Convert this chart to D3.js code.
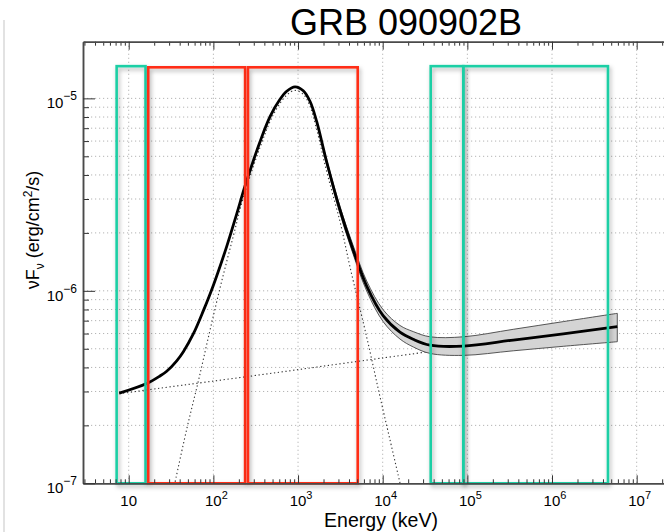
<!DOCTYPE html>
<html>
<head>
<meta charset="utf-8">
<script src="https://cdn.jsdelivr.net/npm/d3@7"></script>
<style>
  html, body { margin:0; padding:0; background:#fff; }
  svg { display:block; font-family:"Liberation Sans", Arial, sans-serif; }
</style>
</head>
<body>
<div class="container"></div>
<script>
// total model (Band + power law), keV vs erg/cm2/s
const modelE = [7.74, 16.3, 23.4, 28.1, 36.9, 44.2, 57.9, 76.0, 99.8, 143.5, 188.8, 236.6,
  355.6, 466.7, 612.4, 734.5, 920.4, 1153, 1384, 1660, 2178, 3133, 4498, 6471, 10162,
  15996, 22961, 36224, 89536, 348337, 1.358e6, 5.902e6];
const modelF = [2.94e-7, 3.30e-7, 3.61e-7, 3.82e-7, 4.33e-7, 4.83e-7, 5.97e-7, 7.87e-7,
  1.067e-6, 1.698e-6, 2.512e-6, 3.508e-6, 5.957e-6, 8.04e-6, 9.89e-6, 1.089e-5, 1.148e-5,
  1.096e-5, 9.66e-6, 7.59e-6, 4.68e-6, 2.63e-6, 1.62e-6, 1.059e-6, 7.41e-7, 6.10e-7,
  5.60e-7, 5.22e-7, 5.16e-7, 5.55e-7, 5.97e-7, 6.52e-7];

// error contour
const bandE = [1660, 2178, 3133, 4498, 6471, 10162, 15996, 22961, 36224, 89536, 348337, 1.358e6, 5.902e6];
const bandHi = [7.64e-6, 4.81e-6, 2.74e-6, 1.71e-6, 1.125e-6, 7.96e-7, 6.61e-7, 6.14e-7, 5.77e-7, 5.77e-7, 6.31e-7, 6.92e-7, 7.64e-7];
const bandLo = [7.53e-6, 4.55e-6, 2.52e-6, 1.54e-6, 9.98e-7, 6.90e-7, 5.62e-7, 5.11e-7, 4.73e-7, 4.62e-7, 4.88e-7, 5.15e-7, 5.44e-7];

// Band component (dotted)
const compE = [33.1, 48.4, 66.4, 91.2, 125.3, 172.2, 225.9, 355.6, 510.5, 734.5, 920.4,
  1153, 1384, 1660, 2178, 3133, 4111, 6471, 9290, 16032, 17378];
const compF = [8.91e-8, 1.91e-7, 3.39e-7, 6.24e-7, 1.12e-6, 1.93e-6, 3.05e-6, 5.56e-6,
  8.22e-6, 1.04e-5, 1.10e-5, 1.05e-5, 9.1e-6, 6.9e-6, 4.17e-6, 2.29e-6, 1.33e-6,
  5.75e-7, 2.82e-7, 1.0e-7, 8.5e-8];

// power-law component (dotted)
const plE = [7.74, 23.4, 355.6, 9290, 5.902e6];
const plF = [2.92e-7, 3.12e-7, 3.66e-7, 4.46e-7, 6.55e-7];

// instrument energy windows
const boxLo = [7.2, 17, 256, 36900, 89600];
const boxHi = [15.8, 237, 5070, 89600, 4.58e6];
const boxTop = [1.47e-5, 1.45e-5, 1.45e-5, 1.47e-5, 1.47e-5];
const boxKind = ['teal', 'red', 'red', 'teal', 'teal'];

const xMajor = [10, 100, 1e3, 1e4, 1e5, 1e6, 1e7];
const xExp = ['', '2', '3', '4', '5', '6', '7'];
const yMajor = [1e-7, 1e-6, 1e-5];
const yExp = ['\u22127', '\u22126', '\u22125'];

const W = 664, H = 532;
const plot = {left: 83, right: 679, top: 41.7, bottom: 483.3};
const colors = {teal: '#1ccfa5', red: '#ff2d14'};

const svg = d3.select('.container')
  .append('svg')
  .attr('width', W)
  .attr('height', H);

const defs = svg.append('defs');
defs.append('clipPath').attr('id', 'clip')
  .append('rect')
  .attr('x', plot.left).attr('y', plot.top)
  .attr('width', plot.right - plot.left).attr('height', plot.bottom - plot.top);
defs.append('filter').attr('id', 'shadow')
  .attr('x', '-60%').attr('y', '-5%').attr('width', '220%').attr('height', '110%')
  .append('feDropShadow')
  .attr('dx', 1.5).attr('dy', 2.5).attr('stdDeviation', 2)
  .attr('flood-color', '#000').attr('flood-opacity', 0.3);

const x = d3.scaleLog().domain([2.884, 3.162e7]).range([plot.left, plot.right]);
const y = d3.scaleLog().domain([1e-7, 1.97e-5]).range([plot.bottom, plot.top]);

// faint page border on the left
svg.append('line')
  .attr('x1', 4).attr('x2', 4).attr('y1', 20).attr('y2', H)
  .attr('stroke', '#d8d8d8').attr('stroke-width', 1.5);

// grid
const grid = svg.append('g').attr('stroke', '#b4b4b4').attr('stroke-dasharray', '1.2,2.8');
grid.selectAll('.gy')
  .data(y.ticks().filter(d => d > 1e-7))
  .join('line')
  .attr('class', 'gy')
  .attr('x1', plot.left).attr('x2', plot.right)
  .attr('y1', d => y(d)).attr('y2', d => y(d));
grid.selectAll('.gx')
  .data(xMajor)
  .join('line')
  .attr('class', 'gx')
  .attr('x1', d => x(d)).attr('x2', d => x(d))
  .attr('y1', plot.top).attr('y2', plot.bottom);

// model curves
const inner = svg.append('g').attr('clip-path', 'url(#clip)');
const line = d3.line()
  .x(d => x(d[0])).y(d => y(d[1]))
  .curve(d3.curveCatmullRom);

inner.append('path')
  .attr('d', line(d3.zip(plE, plF)))
  .attr('fill', 'none').attr('stroke', '#333').attr('stroke-width', 1.1)
  .attr('stroke-dasharray', '1.3,2.6');
inner.append('path')
  .attr('d', line(d3.zip(compE, compF)))
  .attr('fill', 'none').attr('stroke', '#333').attr('stroke-width', 1.1)
  .attr('stroke-dasharray', '1.3,2.6');

const area = d3.area()
  .x(d => x(d[0])).y0(d => y(d[2])).y1(d => y(d[1]))
  .curve(d3.curveCatmullRom);
inner.append('path')
  .attr('d', area(d3.zip(bandE, bandHi, bandLo)) + 'Z')
  .attr('fill', '#d4d4d4').attr('stroke', '#444').attr('stroke-width', 0.9);

inner.append('path')
  .attr('d', line(d3.zip(modelE, modelF)))
  .attr('fill', 'none').attr('stroke', '#000').attr('stroke-width', 2.8);

// energy windows
svg.append('g').selectAll('rect')
  .data(d3.range(boxLo.length))
  .join('rect')
  .attr('x', i => x(boxLo[i]))
  .attr('y', i => y(boxTop[i]))
  .attr('width', i => x(boxHi[i]) - x(boxLo[i]))
  .attr('height', i => y(1e-7) - y(boxTop[i]))
  .attr('fill', 'none')
  .attr('stroke', i => colors[boxKind[i]])
  .attr('stroke-width', 2.6)
  .attr('filter', 'url(#shadow)');

// axes (ticks pointing inwards)
const minorX = x.ticks().filter(d => !xMajor.includes(d));
const minorY = y.ticks().filter(d => !yMajor.includes(d));

function styleAxis(g) {
  g.select('.domain').attr('stroke', '#4a4a4a').attr('stroke-width', 1.5);
  g.selectAll('.tick line').attr('stroke', '#333');
}

const axBottom = svg.append('g').attr('transform', `translate(0,${plot.bottom})`);
axBottom.append('g').call(d3.axisBottom(x).tickValues(minorX).tickSize(-4).tickSizeOuter(0).tickFormat('')).call(styleAxis);
axBottom.append('g').call(d3.axisBottom(x).tickValues(xMajor).tickSize(-8).tickSizeOuter(0).tickFormat('')).call(styleAxis);

const axTop = svg.append('g').attr('transform', `translate(0,${plot.top})`);
axTop.append('g').call(d3.axisTop(x).tickValues(minorX).tickSize(-4).tickSizeOuter(0).tickFormat('')).call(styleAxis);
axTop.append('g').call(d3.axisTop(x).tickValues(xMajor).tickSize(-8).tickSizeOuter(0).tickFormat('')).call(styleAxis);

const axLeft = svg.append('g').attr('transform', `translate(${plot.left},0)`);
axLeft.append('g').call(d3.axisLeft(y).tickValues(minorY).tickSize(-6).tickSizeOuter(0).tickFormat('')).call(styleAxis);
axLeft.append('g').call(d3.axisLeft(y).tickValues(yMajor).tickSize(-12).tickSizeOuter(0).tickFormat('')).call(styleAxis);
svg.selectAll('.tick text').remove();

// tick labels
const xl = svg.append('g').attr('font-size', 15).attr('fill', '#000');
xMajor.forEach((d, i) => {
  const t = xl.append('text')
    .attr('x', x(d) + (xExp[i] ? 3 : 0))
    .attr('y', plot.bottom + 23)
    .attr('text-anchor', 'middle');
  t.append('tspan').text('10');
  if (xExp[i]) t.append('tspan').attr('dy', -7).attr('font-size', 11).text(xExp[i]);
});

const yl = svg.append('g').attr('font-size', 15).attr('fill', '#000');
yMajor.forEach((d, i) => {
  const t = yl.append('text')
    .attr('x', plot.left - 6)
    .attr('y', y(d) + 10)
    .attr('text-anchor', 'end');
  t.append('tspan').text('10');
  t.append('tspan').attr('dy', -8).attr('font-size', 12).text(yExp[i]);
});

// titles
svg.append('text')
  .attr('x', 406).attr('y', 35)
  .attr('text-anchor', 'middle')
  .attr('font-size', 36)
  .text('GRB 090902B');

svg.append('text')
  .attr('x', 381).attr('y', 527)
  .attr('text-anchor', 'middle')
  .attr('font-size', 19.5)
  .text('Energy (keV)');

const yt = svg.append('text')
  .attr('transform', 'translate(39,230) rotate(-90)')
  .attr('text-anchor', 'middle')
  .attr('font-size', 18);
yt.append('tspan').text('\u03bdF');
yt.append('tspan').attr('dy', 5).attr('font-size', 12).text('\u03bd');
yt.append('tspan').attr('dy', -5).text(' (erg/cm');
yt.append('tspan').attr('dy', -7).attr('font-size', 12).text('2');
yt.append('tspan').attr('dy', 7).text('/s)');
</script>
</body>
</html>
